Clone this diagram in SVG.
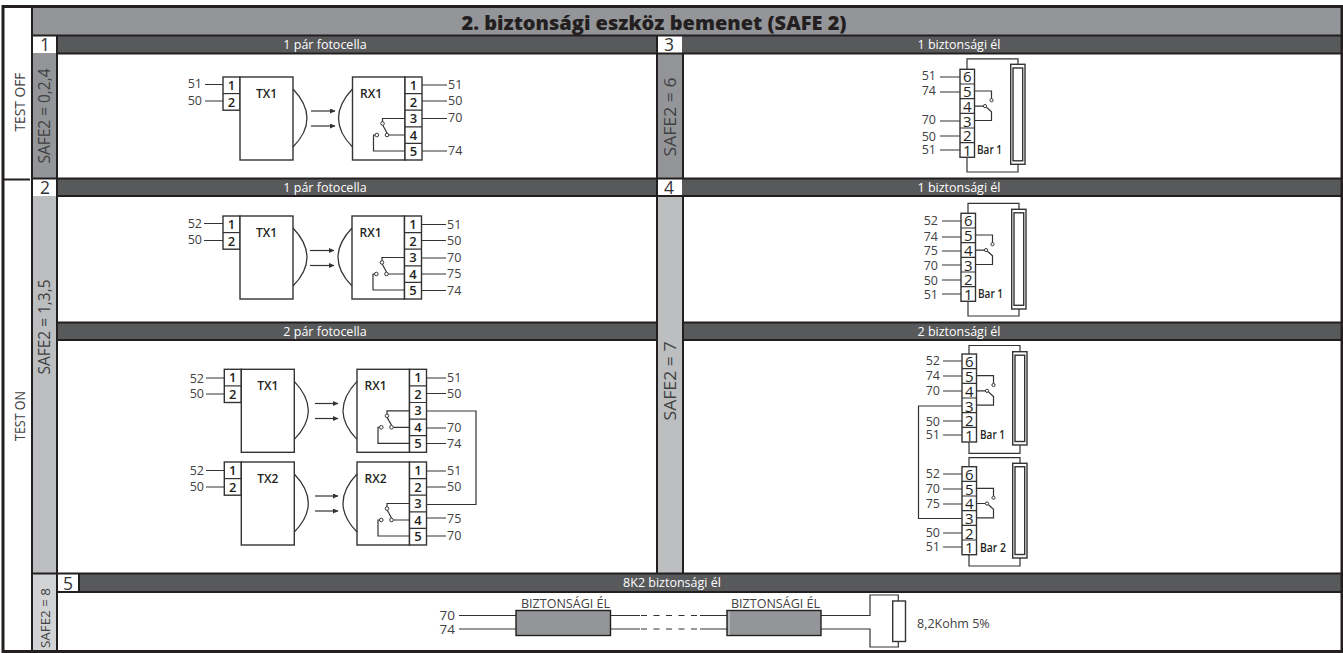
<svg xmlns="http://www.w3.org/2000/svg" width="1343" height="653" viewBox="0 0 1343 653">
<style>
text{font-family:"Open Sans","Noto Sans","Liberation Sans",sans-serif;fill:#414042}
.l{stroke:#333;stroke-width:1.2;fill:none}
.b{stroke:#333;stroke-width:1.4;fill:#fff}
.g{stroke:#231f20;stroke-width:2;fill:none}
.lab{font-size:12.5px}
.r{text-anchor:end}
.m{text-anchor:middle}
.hd{font-size:12.5px;fill:#fff;text-anchor:middle}
.cell{font-size:17.5px;text-anchor:middle;fill:#333}
.tn{font-size:13px;font-weight:600;text-anchor:middle;fill:#231f20}
.en{font-size:15px;font-weight:500;text-anchor:middle;fill:#231f20}
.nm{font-size:12px;font-weight:600;fill:#231f20}
.dark{fill:#58595b}
</style>
<defs>
<marker id="ah" markerWidth="6" markerHeight="6" refX="5" refY="2.5" orient="auto" markerUnits="userSpaceOnUse"><path d="M0,0L5.5,2.5L0,5z" fill="#333"/></marker>
<g id="txs">
<rect class="b" x="0" y="0" width="17" height="33.2"/><path class="l" d="M0,16.6H17"/>
<rect class="b" x="17" y="0" width="53" height="83"/>
<path class="l" d="M70,12Q98,41.5 70,70"/>
</g>
<g id="rxs">
<rect class="b" x="0" y="0" width="52.5" height="83"/>
<rect class="b" x="52.5" y="0" width="17" height="83"/>
<path class="l" d="M52.5,16.6H69.5M52.5,33.2H69.5M52.5,49.8H69.5M52.5,66.4H69.5"/>
<path class="l" d="M0,12Q-28,41.5 0,70"/>
<path class="l" d="M52.5,41.5H30V44.7M30.3,48.3L34.5,56M36.3,58H52.5M22.5,58H21V74H52.5"/>
<circle class="b" style="stroke-width:1" cx="30" cy="46.5" r="1.8"/><circle class="b" style="stroke-width:1" cx="34.5" cy="58" r="1.8"/><circle class="b" style="stroke-width:1" cx="24.3" cy="58" r="1.8"/>
</g>
<g id="eds">
<rect class="b" x="0" y="0" width="14.5" height="88"/>
<path class="l" d="M0,14.7H14.5M0,29.3H14.5M0,44H14.5M0,58.7H14.5M0,73.3H14.5"/>
<path class="l" d="M14.5,21.7H31.5V29.4M14.5,36.8H23.4M26.5,38L31.5,42.5V51.2H14.5"/>
<circle class="b" style="stroke-width:1" cx="31.5" cy="31" r="1.6"/><circle class="b" style="stroke-width:1" cx="25" cy="36.8" r="1.6"/>
</g>
</defs>
<rect width="1343" height="653" fill="#fff"/>
<g id="frame">
<rect x="33" y="8" width="1308" height="27" fill="#939598"/>
<rect class="dark" x="57" y="36" width="1284" height="17"/>
<rect class="dark" x="57" y="179" width="1284" height="17"/>
<rect class="dark" x="57" y="323" width="600" height="17"/>
<rect class="dark" x="683" y="323" width="658" height="17"/>
<rect class="dark" x="79" y="574" width="1262" height="18"/>
<rect x="33" y="53" width="24" height="125" fill="#939598"/>
<rect x="33" y="196" width="24" height="377" fill="#bcbec0"/>
<rect x="33" y="574" width="24" height="78" fill="#d1d3d4"/>
<rect x="658" y="53" width="24.5" height="125" fill="#939598"/>
<rect x="658" y="196" width="24.5" height="377" fill="#bcbec0"/>
<rect x="33" y="36" width="24" height="17" fill="#fff"/>
<rect x="33" y="179" width="24" height="17" fill="#fff"/>
<rect x="658" y="36" width="24" height="17" fill="#fff"/>
<rect x="658" y="179" width="24" height="17" fill="#fff"/>
<path class="g" d="M33,35.5H1341M57,53.5H1341M33,178.5H1341M57,196H1341M57,322.5H657M683,322.5H1341M57,340H657M683,340H1341M33,573.5H1341M57,592H1341M79,592V574M2,179.5H30"/>
<path class="g" d="M32,8V652M57,36V652M657,36V573M683,53V178M683,196V573"/>
<path d="M3,6.5H1342V651.5H3z" fill="none" stroke="#231f20" stroke-width="3"/>
</g>
<g id="headers">
<text x="654" y="30" class="m" style="font-size:20px;font-weight:800;fill:#231f20">2. biztonsági eszköz bemenet (SAFE 2)</text>
<text x="45" y="51" class="cell">1</text><text x="45" y="194" class="cell">2</text><text x="669" y="51" class="cell">3</text><text x="669" y="194" class="cell">4</text><text x="68" y="590" class="cell">5</text>
<text x="325" y="49" class="hd">1 pár fotocella</text><text x="325" y="192" class="hd">1 pár fotocella</text><text x="325" y="336" class="hd">2 pár fotocella</text>
<text x="959" y="49" class="hd">1 biztonsági él</text><text x="959" y="192" class="hd">1 biztonsági él</text><text x="959" y="336" class="hd">2 biztonsági él</text>
<text x="672" y="587" class="hd">8K2 biztonsági él</text>
<text transform="translate(25,102) rotate(-90)" class="m" style="font-size:14px" textLength="59" lengthAdjust="spacingAndGlyphs">TEST OFF</text>
<text transform="translate(25,416) rotate(-90)" class="m" style="font-size:14px" textLength="50" lengthAdjust="spacingAndGlyphs">TEST ON</text>
<text transform="translate(50,116) rotate(-90)" class="m" style="font-size:16.5px" textLength="95" lengthAdjust="spacingAndGlyphs">SAFE2 = 0,2,4</text>
<text transform="translate(50,327) rotate(-90)" class="m" style="font-size:16.5px" textLength="95" lengthAdjust="spacingAndGlyphs">SAFE2 = 1,3,5</text>
<text transform="translate(50,618) rotate(-90)" class="m" style="font-size:12.5px" textLength="60" lengthAdjust="spacingAndGlyphs">SAFE2 = 8</text>
<text transform="translate(676,117) rotate(-90)" class="m" style="font-size:16.5px" textLength="79" lengthAdjust="spacingAndGlyphs">SAFE2 = 6</text>
<text transform="translate(676,381) rotate(-90)" class="m" style="font-size:16.5px" textLength="79" lengthAdjust="spacingAndGlyphs">SAFE2 = 7</text>
</g>
<g id="connectors">
<path class="l" d="M205,84.5H223M205,101H223M422,85H447M422,101H447M422,118.5H447M422,151H447"/>
<path class="l" marker-end="url(#ah)" d="M311,111H335"/><path class="l" marker-end="url(#ah)" d="M311,126H335"/>
<path class="l" d="M204,223.5H223M204,240.5H223M422,224.5H446M422,240.5H446M422,258H446M422,274H446M422,290.5H446"/>
<path class="l" marker-end="url(#ah)" d="M310,250.5H334"/><path class="l" marker-end="url(#ah)" d="M310,265.5H334"/>
<path class="l" d="M206,378H224M206,394H224M426.5,378H446M426.5,393.5H446M426.5,428H446M426.5,443.5H446M426.5,411H476V504.5H426.5"/>
<path class="l" d="M206,470.5H224M206,487H224M426.5,471H446M426.5,487H446M426.5,518H446M426.5,536H446"/>
<path class="l" marker-end="url(#ah)" d="M315,403.5H338"/><path class="l" marker-end="url(#ah)" d="M315,418.5H338"/>
<path class="l" marker-end="url(#ah)" d="M315,496H338"/><path class="l" marker-end="url(#ah)" d="M315,511H338"/>
<path class="l" d="M940,77H960M940,92H960M940,121H960M940,136H960M940,150H960"/>
<path class="l" d="M942,221H961M942,237H961M942,251H961M942,265H961M942,280H961M942,294H961"/>
<path class="l" d="M943,361H962M943,376H962M943,391H962M943,421H962M943,435H962"/>
<path class="l" d="M943,474H962M943,489H962M943,504H962M943,533H962M943,547H962M962,406H918.5V518.5H962"/>
<path class="l" d="M459,615.5H516M459,629H516M610.5,615.5H640M610.5,629H640M700,615.5H727M700,629H727M821,615.5H870V595H898.3V601M821,629H870V647H898.3V641.5"/>
<path class="l" stroke-dasharray="6 6.5" d="M641,615.5H700M641,629H700"/>
</g>
<g id="wire-labels" class="lab">
<text x="202" y="88" class="r">51</text><text x="202" y="105" class="r">50</text>
<text x="448" y="89">51</text><text x="448" y="105">50</text><text x="448" y="122">70</text><text x="448" y="155">74</text>
<text x="202" y="228" class="r">52</text><text x="202" y="244" class="r">50</text>
<text x="447" y="229">51</text><text x="447" y="245">50</text><text x="447" y="262">70</text><text x="447" y="278">75</text><text x="447" y="295">74</text>
<text x="204" y="383" class="r">52</text><text x="204" y="398" class="r">50</text>
<text x="447" y="382">51</text><text x="447" y="398">50</text><text x="447" y="432">70</text><text x="447" y="448">74</text>
<text x="204" y="475" class="r">52</text><text x="204" y="491" class="r">50</text>
<text x="447" y="475">51</text><text x="447" y="491">50</text><text x="447" y="523">75</text><text x="447" y="540">70</text>
<text x="936" y="80" class="r">51</text><text x="936" y="95" class="r">74</text><text x="936" y="124" class="r">70</text><text x="936" y="141" class="r">50</text><text x="936" y="154" class="r">51</text>
<text x="938" y="225" class="r">52</text><text x="938" y="241" class="r">74</text><text x="938" y="255" class="r">75</text><text x="938" y="270" class="r">70</text><text x="938" y="285" class="r">50</text><text x="938" y="299" class="r">51</text>
<text x="940" y="365" class="r">52</text><text x="940" y="380" class="r">74</text><text x="940" y="395" class="r">70</text><text x="940" y="426" class="r">50</text><text x="940" y="439" class="r">51</text>
<text x="940" y="478" class="r">52</text><text x="940" y="493" class="r">70</text><text x="940" y="508" class="r">75</text><text x="940" y="537" class="r">50</text><text x="940" y="551" class="r">51</text>
<text x="455" y="620" class="r" style="font-size:13.5px">70</text><text x="455" y="634" class="r" style="font-size:13.5px">74</text>
</g>
<g id="tx1a" transform="translate(223,77)"><use href="#txs"/><text x="8.5" y="13" class="tn">1</text><text x="8.5" y="29.5" class="tn">2</text><text x="43.5" y="21" class="m nm">TX1</text></g>
<g id="rx1a" transform="translate(352.5,77)"><use href="#rxs"/><text x="7.5" y="21" class="nm">RX1</text><text x="61" y="13" class="tn">1</text><text x="61" y="29.5" class="tn">2</text><text x="61" y="46" class="tn">3</text><text x="61" y="62.5" class="tn">4</text><text x="61" y="79" class="tn">5</text></g>
<g id="tx1b" transform="translate(223,216)"><use href="#txs"/><text x="8.5" y="13" class="tn">1</text><text x="8.5" y="29.5" class="tn">2</text><text x="43.5" y="21" class="m nm">TX1</text></g>
<g id="rx1b" transform="translate(352,216)"><use href="#rxs"/><text x="7.5" y="21" class="nm">RX1</text><text x="61" y="13" class="tn">1</text><text x="61" y="29.5" class="tn">2</text><text x="61" y="46" class="tn">3</text><text x="61" y="62.5" class="tn">4</text><text x="61" y="79" class="tn">5</text></g>
<g id="tx1c" transform="translate(224.3,369.3)"><use href="#txs"/><text x="8.5" y="13" class="tn">1</text><text x="8.5" y="29.5" class="tn">2</text><text x="43.5" y="21" class="m nm">TX1</text></g>
<g id="rx1c" transform="translate(357,369.3)"><use href="#rxs"/><text x="7.5" y="21" class="nm">RX1</text><text x="61" y="13" class="tn">1</text><text x="61" y="29.5" class="tn">2</text><text x="61" y="46" class="tn">3</text><text x="61" y="62.5" class="tn">4</text><text x="61" y="79" class="tn">5</text></g>
<g id="tx2" transform="translate(224.3,462)"><use href="#txs"/><text x="8.5" y="13" class="tn">1</text><text x="8.5" y="29.5" class="tn">2</text><text x="43.5" y="21" class="m nm">TX2</text></g>
<g id="rx2" transform="translate(357,462)"><use href="#rxs"/><text x="7.5" y="21" class="nm">RX2</text><text x="61" y="13" class="tn">1</text><text x="61" y="29.5" class="tn">2</text><text x="61" y="46" class="tn">3</text><text x="61" y="62.5" class="tn">4</text><text x="61" y="79" class="tn">5</text></g>
<g id="bar-a" transform="translate(960,69.3)"><use href="#eds"/>
<path class="l" d="M7,0V-10.5H58V-5M7,88V102.7H58V95"/><rect class="b" x="50.7" y="-5" width="14.3" height="100"/><rect class="b" x="53" y="-1.3" width="9.7" height="92.8"/>
<text x="7.2" y="13" class="en">6</text><text x="7.2" y="28" class="en">5</text><text x="7.2" y="42.5" class="en">4</text><text x="7.2" y="57.5" class="en">3</text><text x="7.2" y="72" class="en">2</text><text x="7.2" y="86.5" class="en">1</text><text x="17" y="85" class="nm" textLength="25" lengthAdjust="spacingAndGlyphs">Bar 1</text></g>
<g id="bar-b" transform="translate(961,213.3)"><use href="#eds"/>
<path class="l" d="M7,0V-10H58V-4M7,88V102.7H58V95.7"/><rect class="b" x="50.7" y="-4" width="14.3" height="99.7"/><rect class="b" x="53" y="-.5" width="9.7" height="92.5"/>
<text x="7.2" y="13" class="en">6</text><text x="7.2" y="28" class="en">5</text><text x="7.2" y="42.5" class="en">4</text><text x="7.2" y="57.5" class="en">3</text><text x="7.2" y="72" class="en">2</text><text x="7.2" y="86.5" class="en">1</text><text x="17" y="85" class="nm" textLength="25" lengthAdjust="spacingAndGlyphs">Bar 1</text></g>
<g id="bar-c" transform="translate(962,354)"><use href="#eds"/>
<path class="l" d="M7,0V-8.5H58V-2.3M7,88V99.3H58V91"/><rect class="b" x="50.7" y="-2.3" width="14.3" height="93.3"/><rect class="b" x="53" y="1.2" width="9.7" height="86.3"/>
<text x="7.2" y="13" class="en">6</text><text x="7.2" y="28" class="en">5</text><text x="7.2" y="42.5" class="en">4</text><text x="7.2" y="57.5" class="en">3</text><text x="7.2" y="72" class="en">2</text><text x="7.2" y="86.5" class="en">1</text><text x="18" y="85" class="nm" textLength="25" lengthAdjust="spacingAndGlyphs">Bar 1</text></g>
<g id="bar-d" transform="translate(962,466.7)"><use href="#eds"/>
<path class="l" d="M7,0V-9H58V-3.4M7,88V99.3H58V91.3"/><rect class="b" x="50.7" y="-3.4" width="14.3" height="94.7"/><rect class="b" x="53" y="0" width="9.7" height="87.8"/>
<text x="7.2" y="13" class="en">6</text><text x="7.2" y="28" class="en">5</text><text x="7.2" y="42.5" class="en">4</text><text x="7.2" y="57.5" class="en">3</text><text x="7.2" y="72" class="en">2</text><text x="7.2" y="86.5" class="en">1</text><text x="18" y="85" class="nm" textLength="26" lengthAdjust="spacingAndGlyphs">Bar 2</text></g>
<g id="edge-1"><rect x="516" y="610.5" width="94.5" height="25" fill="#939598" stroke="#231f20" stroke-width="1.4"/><text x="521" y="607.5" style="font-size:12.5px" textLength="89" lengthAdjust="spacingAndGlyphs">BIZTONSÁGI ÉL</text></g>
<g id="edge-2"><rect x="727" y="610.5" width="94" height="25" fill="#939598" stroke="#231f20" stroke-width="1.4"/><path d="M729,611.5V635" stroke="#bcbec0" stroke-width="1.5"/><text x="731" y="607.5" style="font-size:12.5px" textLength="89" lengthAdjust="spacingAndGlyphs">BIZTONSÁGI ÉL</text></g>
<g id="resistor"><rect class="b" x="892.7" y="601" width="12.8" height="40.5"/><text x="917" y="628" style="font-size:12.5px">8,2Kohm 5%</text></g>
</svg>
